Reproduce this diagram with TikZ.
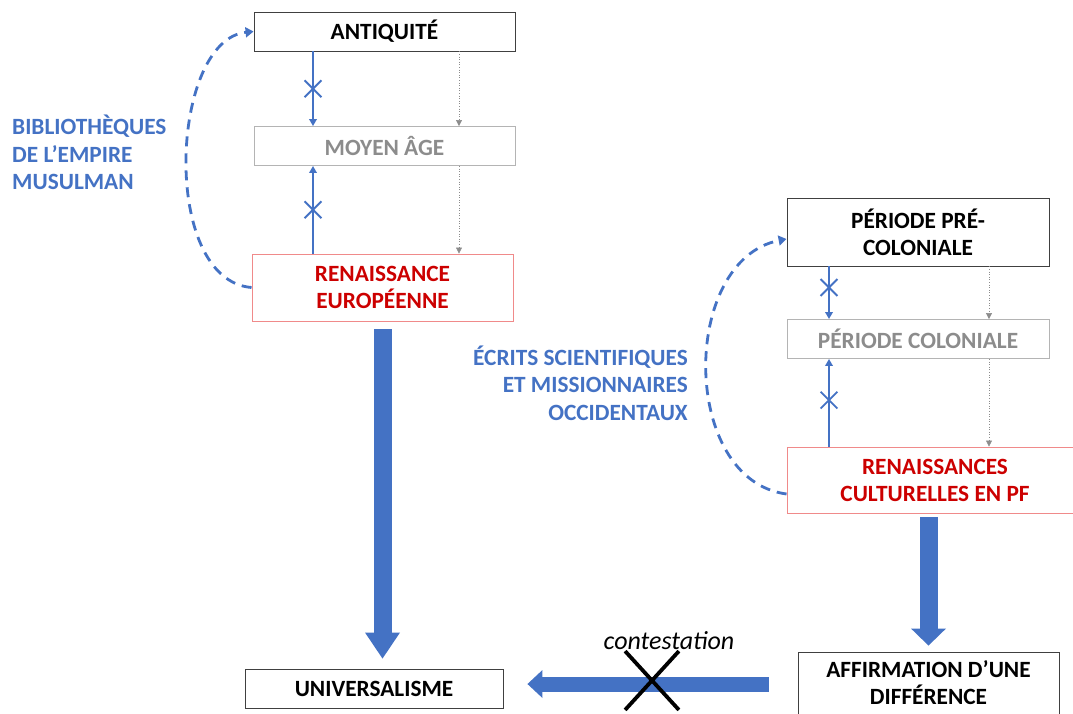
\documentclass[tikz,border=0pt]{standalone}
\usepackage{fontspec}
\setmainfont{Carlito}
\usetikzlibrary{arrows.meta,shapes.misc}
\definecolor{officeblue}{HTML}{4472C4}
\definecolor{renred}{HTML}{CC0000}
\definecolor{renborder}{HTML}{F08A8A}
\definecolor{midgray}{HTML}{8C8C8C}
\definecolor{palegray}{HTML}{B4B4B4}

\begin{document}
\begin{tikzpicture}[x=1pt, y=-1pt,
	period/.style={draw=black!75, line width=0.9pt, minimum width=261pt, minimum height=39pt, align=center, inner sep=0pt, font=\bfseries\fontsize{23.3}{27}\selectfont},
	faded/.style={period, draw=palegray, text=midgray},
	reborn/.style={period, draw=renborder, text=renred, minimum height=67pt},
	srclabel/.style={text=officeblue, inner sep=0pt, font=\bfseries\fontsize{23.3}{27.5}\selectfont},
	link/.style={officeblue, line width=2pt, -{Triangle[width=7.5pt,length=7pt]}},
	lineage/.style={midgray, line width=0.6pt, dotted, -{Triangle[width=6pt,length=6pt]}},
	blocked/.style={cross out, draw=officeblue, line width=1.8pt, minimum size=15pt, inner sep=0pt},
	detour/.style={officeblue, line width=2.8pt, dash pattern=on 10pt off 7pt, -{Triangle[width=10pt,length=8pt]}},
	bigflow/.style={officeblue, line width=18pt, -{Triangle[width=35pt,length=26pt,line width=0pt]}}]
	\useasboundingbox (0,0) rectangle (1073,713);

	\node[period] (anti) at (384.5,31.5) {ANTIQUITÉ};
	\node[faded] (moyen) at (384.5,146) {MOYEN ÂGE};
	\node[reborn] (renEu) at (382.5,287.5) {RENAISSANCE\\EUROPÉENNE};
	\node[period, minimum height=68pt, minimum width=262pt] (preCol) at (918,232) {PÉRIODE PRÉ-\\COLONIALE};
	\node[faded, minimum width=262pt] (col) at (918,339) {PÉRIODE COLONIALE};
	\node[reborn, minimum width=296pt, minimum height=66pt] (renPF) at (935,480) {RENAISSANCES\\CULTURELLES EN PF};
	\node[period, minimum width=258pt] (univ) at (374,688.5) {UNIVERSALISME};
	\node[period, minimum height=62pt] (affirm) at (928.5,683) {AFFIRMATION D’UNE\\DIFFÉRENCE};

	\node[srclabel, anchor=west, align=left] (biblio) at (12,152.5) {BIBLIOTHÈQUES\\DE L’EMPIRE\\MUSULMAN};
	\node[srclabel, anchor=east, align=right] (ecrits) at (688,383) {ÉCRITS SCIENTIFIQUES\\ET MISSIONNAIRES\\OCCIDENTAUX};

	\coordinate (lane1) at (313,0);
	\coordinate (lane2) at (459,0);
	\coordinate (lane3) at (829,0);
	\coordinate (lane4) at (989,0);
	\coordinate (flowrow) at (0,684);

	\draw[link] (anti.south -| lane1) to node[blocked] {} (moyen.north -| lane1);
	\draw[link] (renEu.north -| lane1) to node[blocked] {} (moyen.south -| lane1);
	\draw[lineage] (anti.south -| lane2) to (moyen.north -| lane2);
	\draw[lineage] (moyen.south -| lane2) to (renEu.north -| lane2);

	\draw[link] (preCol.south -| lane3) to node[blocked, pos=0.4] {} (col.north -| lane3);
	\draw[link] (renPF.north -| lane3) to node[blocked, pos=0.53] {} (col.south -| lane3);
	\draw[lineage] (preCol.south -| lane4) to (col.north -| lane4);
	\draw[lineage] (col.south -| lane4) to (renPF.north -| lane4);

	\draw[detour] (renEu.west) .. controls (160,280) and (170,40) .. (anti.west);
	\draw[detour] ([yshift=-14pt]renPF.west) .. controls (680,480) and (680,260) .. ([yshift=-7pt]preCol.west);

	\draw[bigflow, shorten <=8pt, shorten >=10pt] (renEu.south) -- (renEu.south |- univ.north);
	\draw[bigflow, -{Triangle[width=35pt,length=17pt,line width=0pt]}, shorten <=4pt, shorten >=6pt] (renPF.south -| affirm.north) -- (affirm.north);
	\draw[bigflow, line width=15pt, -{Triangle[width=28pt,length=15pt,line width=0pt]}, shorten <=29pt, shorten >=24pt] (affirm.west |- flowrow) -- (univ.east |- flowrow);

	\node[cross out, draw=black, line width=3.8pt, minimum width=50pt, minimum height=55pt, inner sep=0pt] (nope) at (652,680.5) {};
	\node[font=\itshape\fontsize{26}{30}\selectfont, inner sep=0pt] (contest) at (669,641) {contestation};
\end{tikzpicture}
\end{document}
